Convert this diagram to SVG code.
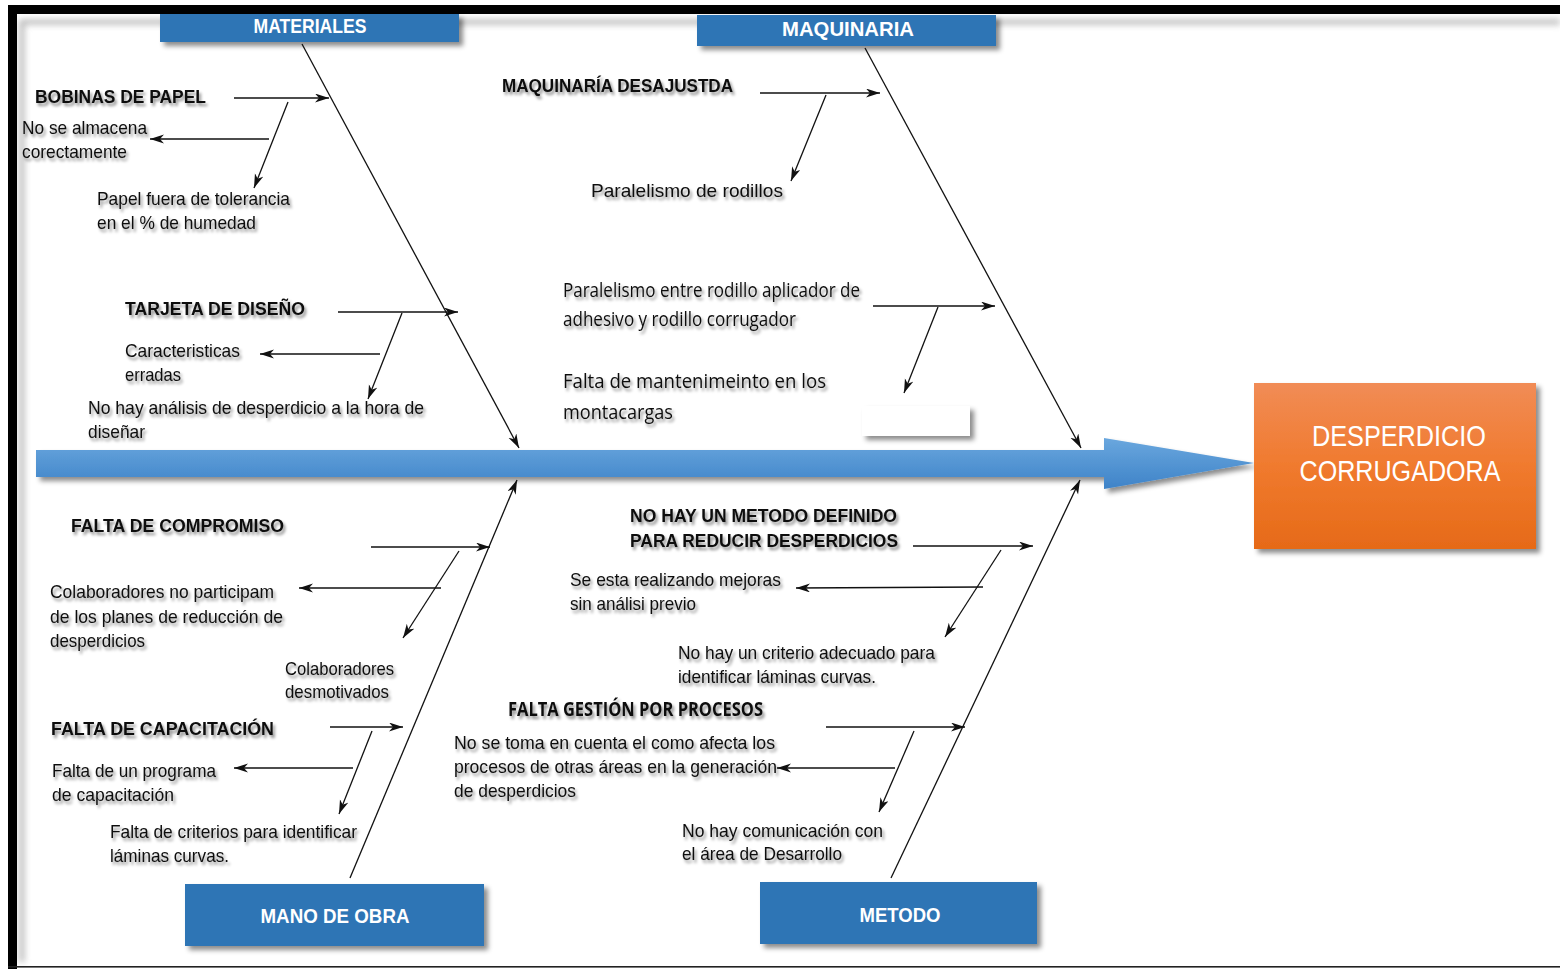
<svg xmlns="http://www.w3.org/2000/svg" width="1560" height="969" viewBox="0 0 1560 969">
  <defs>
    <style>
      .t { font-family: "Liberation Sans", Arial, sans-serif; font-size: 19px; fill: #111; filter: url(#tshadow); }
      .b { font-weight: bold; font-size: 18.5px; }
      .c { font-family: "Open Sans", "Liberation Sans", sans-serif; font-size: 20px; }
      .cat { font-family: "Liberation Sans", Arial, sans-serif; font-weight: bold; fill: #fff; text-anchor: middle; }
      .eff { font-family: "Liberation Sans", Arial, sans-serif; font-size: 29px; fill: #fff; text-anchor: middle; }
      .box { fill: #2E74B5; filter: url(#bshadow); }
      .ln { stroke: #111; stroke-width: 1.3; fill: none; }
      .arr { marker-end: url(#ah); }
    </style>
    <filter id="tshadow" x="-10%" y="-40%" width="125%" height="190%">
      <feDropShadow dx="2" dy="3" stdDeviation="1.8" flood-color="#000" flood-opacity="0.45"/>
    </filter>
    <filter id="bshadow" x="-10%" y="-30%" width="125%" height="170%">
      <feDropShadow dx="4" dy="4" stdDeviation="2.5" flood-color="#000" flood-opacity="0.45"/>
    </filter>
    <filter id="soft" x="-5%" y="-5%" width="110%" height="110%">
      <feGaussianBlur stdDeviation="3"/>
    </filter>
    <linearGradient id="spineGrad" x1="0" y1="0" x2="0" y2="1">
      <stop offset="0" stop-color="#6AA7DE"/>
      <stop offset="1" stop-color="#3E83C8"/>
    </linearGradient>
    <linearGradient id="effGrad" x1="0" y1="0" x2="0" y2="1">
      <stop offset="0" stop-color="#F18C56"/>
      <stop offset="0.5" stop-color="#F07A2E"/>
      <stop offset="1" stop-color="#E66A18"/>
    </linearGradient>
    <marker id="ah" markerUnits="userSpaceOnUse" markerWidth="15" markerHeight="10" refX="14" refY="4.5" orient="auto">
      <path d="M0,0 L14,4.5 L0,9 L4,4.5 Z" fill="#111"/>
    </marker>
  </defs>

  <rect width="1560" height="969" fill="#fff"/>

  <!-- frame -->
  <g id="frame">
    <path d="M20,22 H1560 M22,20 V962" stroke="#888" stroke-width="5" opacity="0.6" filter="url(#soft)"/>
    <rect x="8" y="5" width="1552" height="9" fill="#000"/>
    <rect x="8" y="5" width="9" height="964" fill="#000"/>
    <rect x="8" y="966" width="1552" height="1.6" fill="#222"/>
  </g>

  <!-- spine -->
  <g id="spine">
    <path d="M36,450 H1104 V438 L1254,463 L1104,489 V477 H36 Z" fill="url(#spineGrad)" filter="url(#bshadow)"/>
  </g>

  <!-- effect -->
  <g id="effect">
    <rect x="1254" y="383" width="282" height="166" fill="url(#effGrad)" filter="url(#bshadow)"/>
    <text class="eff" x="1399" y="446" textLength="174" lengthAdjust="spacingAndGlyphs">DESPERDICIO</text>
    <text class="eff" x="1400" y="481" textLength="201" lengthAdjust="spacingAndGlyphs">CORRUGADORA</text>
  </g>

  <!-- empty placeholder box -->
  <g id="blank-box">
    <rect x="862" y="406" width="108" height="30" fill="#fff" filter="url(#bshadow)"/>
  </g>

  <!-- category boxes -->
  <g id="cat-materiales">
    <rect class="box" x="160" y="14" width="299" height="28"/>
    <text class="cat" x="310" y="33" font-size="20" textLength="113" lengthAdjust="spacingAndGlyphs">MATERIALES</text>
  </g>
  <g id="cat-maquinaria">
    <rect class="box" x="697" y="15" width="299" height="31"/>
    <text class="cat" x="848" y="36" font-size="21" textLength="132" lengthAdjust="spacingAndGlyphs">MAQUINARIA</text>
  </g>
  <g id="cat-mano-de-obra">
    <rect class="box" x="185" y="884" width="299" height="62"/>
    <text class="cat" x="335" y="923" font-size="21" textLength="149" lengthAdjust="spacingAndGlyphs">MANO DE OBRA</text>
  </g>
  <g id="cat-metodo">
    <rect class="box" x="760" y="882" width="277" height="62"/>
    <text class="cat" x="900" y="922" font-size="21" textLength="81" lengthAdjust="spacingAndGlyphs">METODO</text>
  </g>

  <!-- connectors -->
  <g id="connectors">
    <!-- main bones -->
    <line class="ln arr" x1="302" y1="44" x2="519" y2="448"/>
    <line class="ln arr" x1="865" y1="48" x2="1081" y2="448"/>
    <line class="ln arr" x1="350" y1="878" x2="517" y2="480"/>
    <line class="ln arr" x1="891" y1="878" x2="1080" y2="480"/>

    <!-- materiales -->
    <line class="ln arr" x1="234" y1="98" x2="329" y2="98"/>
    <line class="ln arr" x1="288" y1="102" x2="254" y2="188"/>
    <line class="ln arr" x1="269" y1="139" x2="150" y2="139"/>
    <line class="ln arr" x1="338" y1="312" x2="458" y2="312"/>
    <line class="ln arr" x1="402" y1="313" x2="368" y2="399"/>
    <line class="ln arr" x1="380" y1="354" x2="260" y2="354"/>

    <!-- maquinaria -->
    <line class="ln arr" x1="760" y1="93" x2="880" y2="93"/>
    <line class="ln arr" x1="826" y1="95" x2="791" y2="181"/>
    <line class="ln arr" x1="873" y1="306" x2="995" y2="306"/>
    <line class="ln arr" x1="938" y1="307" x2="904" y2="393"/>

    <!-- mano de obra -->
    <line class="ln arr" x1="371" y1="547" x2="490" y2="547"/>
    <line class="ln arr" x1="459" y1="551" x2="403" y2="638"/>
    <line class="ln arr" x1="441" y1="588" x2="299" y2="588"/>
    <line class="ln arr" x1="330" y1="727" x2="403" y2="727"/>
    <line class="ln arr" x1="372" y1="731" x2="339" y2="814"/>
    <line class="ln arr" x1="353" y1="768" x2="234" y2="768"/>

    <!-- metodo -->
    <line class="ln arr" x1="913" y1="546" x2="1033" y2="546"/>
    <line class="ln arr" x1="1001" y1="550" x2="945" y2="637"/>
    <line class="ln arr" x1="983" y1="587" x2="796" y2="588"/>
    <line class="ln arr" x1="826" y1="727" x2="965" y2="727"/>
    <line class="ln arr" x1="914" y1="731" x2="879" y2="812"/>
    <line class="ln arr" x1="895" y1="768" x2="777" y2="768"/>
  </g>

  <!-- causes: materiales -->
  <g id="causes-materiales">
    <text class="t b" x="35" y="103" textLength="171" lengthAdjust="spacingAndGlyphs">BOBINAS  DE PAPEL</text>
    <text class="t" x="22" y="134" textLength="125" lengthAdjust="spacingAndGlyphs">No se almacena</text>
    <text class="t" x="22" y="158" textLength="105" lengthAdjust="spacingAndGlyphs">corectamente</text>
    <text class="t" x="97" y="205" textLength="193" lengthAdjust="spacingAndGlyphs">Papel  fuera  de tolerancia</text>
    <text class="t" x="97" y="229" textLength="159" lengthAdjust="spacingAndGlyphs">en el % de humedad</text>
    <text class="t b" x="125" y="315" textLength="180" lengthAdjust="spacingAndGlyphs">TARJETA  DE DISEÑO</text>
    <text class="t" x="125" y="357" textLength="115" lengthAdjust="spacingAndGlyphs">Caracteristicas</text>
    <text class="t" x="125" y="381" textLength="56" lengthAdjust="spacingAndGlyphs">erradas</text>
    <text class="t" x="88" y="414" textLength="336" lengthAdjust="spacingAndGlyphs">No hay  análisis  de  desperdicio  a la hora de</text>
    <text class="t" x="88" y="438" textLength="57" lengthAdjust="spacingAndGlyphs">diseñar</text>
  </g>

  <!-- causes: maquinaria -->
  <g id="causes-maquinaria">
    <text class="t b" x="502" y="92" textLength="231" lengthAdjust="spacingAndGlyphs">MAQUINARÍA  DESAJUSTDA</text>
    <text class="t" x="591" y="197" font-size="22" textLength="192" lengthAdjust="spacingAndGlyphs">Paralelismo de rodillos</text>
    <text class="t c" x="563" y="297" textLength="297" lengthAdjust="spacingAndGlyphs">Paralelismo entre rodillo aplicador de</text>
    <text class="t c" x="563" y="326" textLength="233" lengthAdjust="spacingAndGlyphs">adhesivo y rodillo corrugador</text>
    <text class="t c" x="563" y="388" textLength="263" lengthAdjust="spacingAndGlyphs">Falta de  mantenimeinto  en los</text>
    <text class="t c" x="563" y="419" textLength="110" lengthAdjust="spacingAndGlyphs">montacargas</text>
  </g>

  <!-- causes: mano de obra -->
  <g id="causes-mano-de-obra">
    <text class="t b" x="71" y="532" textLength="213" lengthAdjust="spacingAndGlyphs">FALTA  DE  COMPROMISO</text>
    <text class="t" x="50" y="598" textLength="224" lengthAdjust="spacingAndGlyphs">Colaboradores  no participam</text>
    <text class="t" x="50" y="623" textLength="233" lengthAdjust="spacingAndGlyphs">de los planes  de  reducción  de</text>
    <text class="t" x="50" y="647" textLength="95" lengthAdjust="spacingAndGlyphs">desperdicios</text>
    <text class="t" x="285" y="675" textLength="109" lengthAdjust="spacingAndGlyphs">Colaboradores</text>
    <text class="t" x="285" y="698" textLength="104" lengthAdjust="spacingAndGlyphs">desmotivados</text>
    <text class="t b" x="51" y="735" textLength="223" lengthAdjust="spacingAndGlyphs">FALTA  DE  CAPACITACIÓN</text>
    <text class="t" x="52" y="777" textLength="164" lengthAdjust="spacingAndGlyphs">Falta  de  un programa</text>
    <text class="t" x="52" y="801" textLength="122" lengthAdjust="spacingAndGlyphs">de  capacitación</text>
    <text class="t" x="110" y="838" textLength="247" lengthAdjust="spacingAndGlyphs">Falta  de  criterios  para  identificar</text>
    <text class="t" x="110" y="862" textLength="119" lengthAdjust="spacingAndGlyphs">láminas  curvas.</text>
  </g>

  <!-- causes: metodo -->
  <g id="causes-metodo">
    <text class="t b" x="630" y="522" textLength="267" lengthAdjust="spacingAndGlyphs">NO  HAY  UN  METODO  DEFINIDO</text>
    <text class="t b" x="630" y="547" textLength="268" lengthAdjust="spacingAndGlyphs">PARA  REDUCIR  DESPERDICIOS</text>
    <text class="t" x="570" y="586" textLength="211" lengthAdjust="spacingAndGlyphs">Se esta  realizando  mejoras</text>
    <text class="t" x="570" y="610" textLength="126" lengthAdjust="spacingAndGlyphs">sin  análisi  previo</text>
    <text class="t" x="678" y="659" textLength="257" lengthAdjust="spacingAndGlyphs">No  hay  un  criterio  adecuado  para</text>
    <text class="t" x="678" y="683" textLength="198" lengthAdjust="spacingAndGlyphs">identificar  láminas  curvas.</text>
    <text class="t b c" x="508" y="716" textLength="255" lengthAdjust="spacingAndGlyphs">FALTA GESTIÓN POR PROCESOS</text>
    <text class="t" x="454" y="749" textLength="321" lengthAdjust="spacingAndGlyphs">No se toma  en  cuenta  el  como  afecta  los</text>
    <text class="t" x="454" y="773" textLength="323" lengthAdjust="spacingAndGlyphs">procesos  de  otras  áreas  en  la generación</text>
    <text class="t" x="454" y="797" textLength="122" lengthAdjust="spacingAndGlyphs">de  desperdicios</text>
    <text class="t" x="682" y="837" textLength="201" lengthAdjust="spacingAndGlyphs">No  hay  comunicación  con</text>
    <text class="t" x="682" y="860" textLength="160" lengthAdjust="spacingAndGlyphs">el  área  de  Desarrollo</text>
  </g>
</svg>
